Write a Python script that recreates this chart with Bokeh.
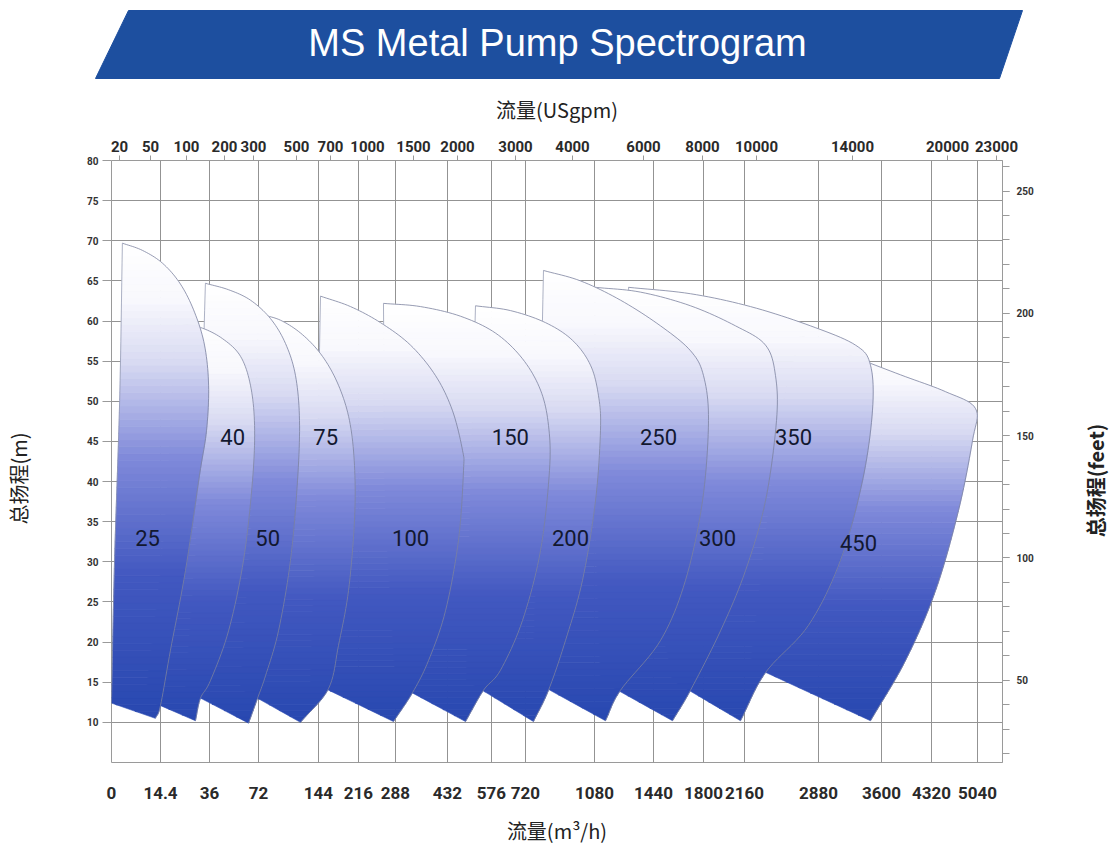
import numpy as np
from bokeh.plotting import figure
from bokeh.models import Range1d, LinearAxis, FixedTicker
from bokeh.layouts import column, row
from bokeh.core.properties import value
from bokeh.embed import file_html
from bokeh.resources import INLINE

# ---------------- data ----------------
TITLE = "MS Metal Pump Spectrogram"
X_TITLE = "流量(m³/h)"
TOP_TITLE = "流量(USgpm)"
Y_TITLE = "总扬程(m)"
Y2_TITLE = "总扬程(feet)"

# bottom axis (m3/h): tick values and their grid positions along the (non-linear) axis
X_TICKS = [0, 14.4, 36, 72, 144, 216, 288, 432, 576, 720, 1080, 1440, 1800, 2160, 2880, 3600, 4320, 5040]
X_TICK_LABELS = ["0", "14.4", "36", "72", "144", "216", "288", "432", "576", "720", "1080", "1440",
                 "1800", "2160", "2880", "3600", "4320", "5040"]
X_POS = [0, 49, 98, 147, 207, 247, 284, 336, 380, 414, 483, 542, 592, 633, 707, 770, 820, 866]
X_END = 891
# top axis (USgpm) tick labels and their positions along the same axis
GPM_TICKS = [20, 50, 100, 200, 300, 500, 700, 1000, 1500, 2000, 3000, 4000, 6000, 8000, 10000, 14000, 20000, 23000]
GPM_POS = [8, 39, 75, 113, 142, 185, 219, 256, 302, 346, 404, 461, 532, 591, 645, 741, 836, 885]
# head axes
Y_TICKS = list(range(10, 81, 5))
FT_TICKS = [50, 100, 150, 200, 250]
FT_MINOR = list(range(20, 261, 10))
M_TO_FT = 3.28084

# pump models
PUMPS = ["25", "40", "50", "75", "100", "150", "200", "250", "300", "350", "450"]
LABEL_FLOW = [10.6, 53, 83, 157, 330, 656, 955, 1476, 1923, 2637, 3337]
LABEL_HEAD = [33.0, 45.6, 33.0, 45.6, 33.0, 45.6, 33.0, 45.6, 33.0, 45.6, 32.3]
# left edge: bottom-left corner -> top-left corner
LEFT_FLOW = [
    [0, 0.9, 2.4, 3.2],
    [10.0, 16.6, 21.0],
    [25.4, 31.2, 34.2],
    [58.8, 67.6, 72.0],
    [134.4, 141.6, 147.6],
    [288.0, 268.5, 264.6],
    [494.2, 507.3, 523.6],
    [756.5, 787.8, 813.9],
    [1116.6, 1086.1, 1086.1],
    [1576.8, 1360.7, 1287.5],
    [2218.4, 2510.3, 2704.9],
]
LEFT_HEAD = [
    [12.4, 30.2, 50.1, 69.7],
    [12.9, 35.2, 59.8],
    [14.0, 37.6, 64.7],
    [14.2, 37.6, 60.9],
    [15.1, 37.6, 63.1],
    [14.8, 37.6, 62.2],
    [15.2, 37.6, 61.9],
    [15.2, 37.6, 66.3],
    [15.2, 37.6, 64.2],
    [15.2, 37.6, 64.2],
    [17.1, 47.6, 58.2],
]
# top curve and right edge: top-left corner -> lowest (bottom-right) point
ARC_FLOW = [
    [3.2, 9.1, 15.3, 23.2, 29.4, 33.8, 35.6, 34.7, 31.6, 25.4, 18.8, 14.4, 12.9],
    [21.0, 32.0, 45.6, 58.8, 66.1, 69.1, 67.6, 61.0, 50.0, 36.7, 32.0, 29.8],
    [34.2, 50.0, 66.1, 86.4, 104.4, 116.4, 121.2, 118.8, 110.4, 96.0, 80.4, 71.3, 64.7],
    [72.0, 98.4, 124.8, 151.2, 180.0, 199.8, 208.8, 208.8, 198.0, 180.0, 162.0, 122.4],
    [147.6, 201.6, 258.8, 329.5, 398.8, 447.7, 481.1, 484.4, 468.0, 426.5, 379.4, 335.1, 284.1],
    [264.6, 357.2, 474.5, 592.9, 707.3, 798.3, 840.0, 845.2, 798.3, 707.3, 614.1, 549.8, 491.0],
    [523.6, 656.5, 824.4, 965.2, 1059.1, 1104.4, 1116.6, 1086.1, 1017.4, 928.7, 840.0, 761.7],
    [813.9, 1007.0, 1238.7, 1490.4, 1706.4, 1800.0, 1843.9, 1792.8, 1670.4, 1490.4, 1238.7, 1147.1],
    [1086.1, 1360.7, 1706.4, 2081.0, 2364.3, 2461.6, 2471.4, 2364.3, 2169.7, 1949.3, 1706.4, 1576.8],
    [1287.5, 1706.4, 2218.4, 2802.2, 3302.9, 3474.4, 3497.2, 3382.9, 3131.5, 2782.8, 2364.3, 2124.9],
    [2704.9, 3245.8, 3873.6, 4539.1, 5008.6, 4961.7, 4742.6, 4382.6, 3945.6, 3474.4],
]
ARC_HEAD = [
    [69.7, 68.8, 67.2, 64.6, 61.1, 57.0, 52.0, 46.4, 40.8, 28.9, 19.0, 12.1, 10.5],
    [59.8, 59.2, 57.8, 55.6, 52.0, 47.0, 40.1, 30.2, 21.4, 15.2, 13.0, 10.2],
    [64.7, 63.9, 62.6, 60.3, 57.2, 53.2, 47.6, 40.1, 30.2, 21.4, 15.8, 13.0, 9.9],
    [60.9, 60.1, 58.3, 55.6, 52.0, 47.6, 42.0, 35.2, 26.4, 19.6, 14.2, 10.0],
    [63.1, 61.8, 59.8, 57.0, 53.2, 48.9, 43.9, 41.4, 32.7, 23.9, 17.7, 13.7, 10.1],
    [62.2, 61.8, 60.6, 58.5, 55.3, 51.4, 47.0, 41.4, 31.4, 22.7, 16.5, 14.0, 10.1],
    [61.9, 61.3, 59.8, 57.6, 54.5, 50.7, 46.4, 37.6, 27.7, 20.2, 14.0, 10.1],
    [66.3, 65.0, 62.6, 59.4, 56.3, 53.2, 47.6, 37.6, 27.7, 20.2, 14.0, 10.2],
    [64.2, 63.6, 61.9, 59.4, 57.0, 53.2, 47.6, 37.6, 28.9, 21.4, 14.0, 10.2],
    [64.2, 63.4, 61.8, 59.4, 57.0, 54.5, 48.9, 40.1, 30.2, 22.1, 16.2, 10.2],
    [58.2, 55.7, 53.3, 51.2, 49.1, 45.1, 36.4, 26.4, 17.7, 10.2],
]

# ---------------- helpers ----------------
def fx(flow):
    """horizontal axis scale: m3/h -> position along the axis (piecewise linear between ticks)"""
    flow = np.asarray(flow, dtype=float)
    u = np.interp(flow, X_TICKS, X_POS)
    slope = (X_POS[-1] - X_POS[-2]) / (X_TICKS[-1] - X_TICKS[-2])
    return np.where(flow > X_TICKS[-1], X_POS[-1] + (flow - X_TICKS[-1]) * slope, u)


def catmull(px, py, n=10):
    P = np.column_stack([np.asarray(px, float), np.asarray(py, float)])
    P = np.vstack([2 * P[0] - P[1], P, 2 * P[-1] - P[-2]])
    out = []
    for i in range(1, len(P) - 2):
        p0, p1, p2, p3 = P[i - 1], P[i], P[i + 1], P[i + 2]
        for t in np.linspace(0, 1, n, endpoint=False):
            t2, t3 = t * t, t * t * t
            out.append(0.5 * ((2 * p1) + (-p0 + p2) * t + (2 * p0 - 5 * p1 + 4 * p2 - p3) * t2
                              + (-p0 + 3 * p1 - 3 * p2 + p3) * t3))
    out.append(P[-2])
    out = np.array(out)
    return out[:, 0], out[:, 1]


def clip_half(poly, y0, keep_above):
    res = []
    n = len(poly)
    for i in range(n):
        a = poly[i]; b = poly[(i + 1) % n]
        ina = (a[1] >= y0) if keep_above else (a[1] <= y0)
        inb = (b[1] >= y0) if keep_above else (b[1] <= y0)
        if ina:
            res.append(a)
        if ina != inb:
            t = (y0 - a[1]) / (b[1] - a[1])
            res.append((a[0] + t * (b[0] - a[0]), y0))
    return res


STOPS = [(0.0, (40, 72, 176)), (0.3, (66, 88, 192)), (0.55, (128, 138, 218)),
         (0.75, (216, 218, 242)), (0.88, (248, 248, 253)), (1.0, (255, 255, 255))]


def grad_color(t):
    t = min(max(t, 0.0), 1.0)
    for (t0, c0), (t1, c1) in zip(STOPS[:-1], STOPS[1:]):
        if t <= t1:
            f = (t - t0) / (t1 - t0)
            return "#%02x%02x%02x" % tuple(int(round(c0[k] + f * (c1[k] - c0[k]))) for k in range(3))
    return "#ffffff"


TICK_FONT = "Roboto"
CJK_FONT = "Noto Sans CJK SC"
W = 1110
H_BANNER = 88
H_MAIN = 766
W_LEFT = 36
W_RIGHT = 30
W_MAIN = W - W_LEFT - W_RIGHT


def bare(width, x0, x1, y_top, y_bot):
    f = figure(width=width, height=(y_bot - y_top), x_range=Range1d(x0, x1), y_range=Range1d(y_bot, y_top),
               toolbar_location=None, output_backend="svg", min_border=0,
               x_axis_type=None, y_axis_type=None, outline_line_color=None)
    f.frame_align = False
    f.grid.visible = False
    return f

# ---------------- banner ----------------
banner = bare(W, 0, W, 0, H_BANNER)
banner.patch([128, 1022, 999, 95], [10, 10, 78, 78], fill_color="#1d4f9f", line_color="#1d4f9f")
banner.text(x=[557], y=[42], text=[TITLE], text_color="white", text_font=value("Liberation Sans"),
            text_font_size="38px", text_align="center", text_baseline="middle")

# ---------------- side titles ----------------
left_t = bare(W_LEFT, 0, W_LEFT, H_BANNER, H_BANNER + H_MAIN)
left_t.text(x=[18], y=[478], text=[Y_TITLE], angle=np.pi / 2, text_font=value(CJK_FONT),
            text_font_size="20px", text_color="#222222", text_align="center", text_baseline="middle")
right_t = bare(W_RIGHT, W - W_RIGHT, W, H_BANNER, H_BANNER + H_MAIN)
right_t.text(x=[1095], y=[480], text=[Y2_TITLE], angle=np.pi / 2, text_font=value(CJK_FONT),
             text_font_size="20px", text_font_style="bold", text_color="#222222",
             text_align="center", text_baseline="middle")

# ---------------- main chart ----------------
p = figure(width=W_MAIN, height=H_MAIN, x_range=Range1d(0, X_END), y_range=Range1d(5, 80),
           toolbar_location=None, output_backend="svg",
           min_border_left=111 - W_LEFT, min_border_right=(W - W_RIGHT) - 1002,
           min_border_top=160 - H_BANNER, min_border_bottom=H_BANNER + H_MAIN - 762,
           outline_line_color="#9a9a9a", outline_line_width=1)
p.frame_align = False
p.extra_y_ranges = {"ft": Range1d(5 * M_TO_FT, 80 * M_TO_FT)}

# bottom axis
xa = p.xaxis[0]
xa.ticker = FixedTicker(ticks=X_POS)
xa.major_label_overrides = {pos: lab for pos, lab in zip(X_POS, X_TICK_LABELS)}
xa.major_tick_out = 0
xa.major_tick_in = 0
xa.minor_tick_out = 0
xa.axis_line_color = None
xa.major_label_standoff = 24
xa.major_label_text_font = TICK_FONT
xa.major_label_text_font_size = "17px"
xa.major_label_text_font_style = "bold"
xa.major_label_text_color = "#2a2a2a"
xa.axis_label = X_TITLE
xa.axis_label_text_font = CJK_FONT
xa.axis_label_text_font_size = "20px"
xa.axis_label_text_font_style = "normal"
xa.axis_label_text_color = "#222222"
xa.axis_label_standoff = 14

# left axis
ya = p.yaxis[0]
ya.ticker = FixedTicker(ticks=Y_TICKS)
ya.major_tick_out = 9
ya.major_tick_in = 0
ya.minor_tick_out = 0
ya.axis_line_color = None
ya.major_tick_line_color = "#9a9a9a"
ya.major_label_standoff = 4
ya.major_label_text_font = TICK_FONT
ya.major_label_text_font_size = "10px"
ya.major_label_text_font_style = "bold"
ya.major_label_text_color = "#333333"

# top axis (USgpm)
top = LinearAxis(ticker=FixedTicker(ticks=GPM_POS),
                 major_label_overrides={pos: str(g) for pos, g in zip(GPM_POS, GPM_TICKS)})
top.major_tick_out = 5
top.major_tick_in = 0
top.minor_tick_out = 0
top.axis_line_color = None
top.major_tick_line_color = "#9a9a9a"
top.major_label_standoff = 4
top.major_label_text_font = TICK_FONT
top.major_label_text_font_size = "15px"
top.major_label_text_font_style = "bold"
top.major_label_text_color = "#2a2a2a"
top.axis_label = TOP_TITLE
top.axis_label_text_font = CJK_FONT
top.axis_label_text_font_size = "20px"
top.axis_label_text_font_style = "normal"
top.axis_label_text_color = "#222222"
top.axis_label_standoff = 14
p.add_layout(top, "above")

# right axis (feet)
right = LinearAxis(y_range_name="ft", ticker=FixedTicker(ticks=FT_TICKS, minor_ticks=FT_MINOR))
right.major_tick_out = 7
right.major_tick_in = 0
right.minor_tick_out = 7
right.minor_tick_in = 0
right.axis_line_color = "#9a9a9a"
right.major_tick_line_color = "#9a9a9a"
right.minor_tick_line_color = "#9a9a9a"
right.major_label_standoff = 7
right.major_label_text_font = TICK_FONT
right.major_label_text_font_size = "10px"
right.major_label_text_font_style = "bold"
right.major_label_text_color = "#333333"
p.add_layout(right, "right")

p.xgrid.grid_line_color = "#939393"
p.ygrid.grid_line_color = "#939393"
p.xgrid.grid_line_width = 1
p.ygrid.grid_line_width = 1

# pump regions (drawn right to left so that each smaller pump lies on top), vertical gradient fill
for i in reversed(range(len(PUMPS))):
    lu, lh = catmull(fx(LEFT_FLOW[i]), LEFT_HEAD[i], n=8)
    au, ah = catmull(fx(ARC_FLOW[i]), ARC_HEAD[i], n=10)
    us = np.concatenate([lu[:-1], au])
    hs = np.concatenate([lh[:-1], ah])
    poly = list(zip(us, hs))
    hmin, hmax = hs.min(), hs.max()
    nstrip = 70
    edges = np.linspace(hmin, hmax, nstrip + 1)
    sxs, sys_, cols = [], [], []
    for k in range(nstrip):
        q = clip_half(poly, edges[k], True)
        if len(q) < 3:
            continue
        q = clip_half(q, edges[k + 1] + 0.03, False)
        if len(q) < 3:
            continue
        sxs.append([a for a, b in q]); sys_.append([b for a, b in q])
        cols.append(grad_color((0.5 * (edges[k] + edges[k + 1]) - hmin) / (hmax - hmin)))
    p.patches(xs=sxs, ys=sys_, fill_color=cols, line_color=cols, line_width=0.6)
    p.line(list(au), list(ah), line_color="#7c83a0", line_width=0.8)
    p.line(list(lu), list(lh), line_color="#8a90aa", line_width=0.7)

# model labels
p.text(x=[float(v) for v in fx(LABEL_FLOW)], y=LABEL_HEAD, text=PUMPS, text_font=value(TICK_FONT),
       text_font_size="22px", text_color="#121830", text_align="center", text_baseline="middle")

layout = column(banner, row(left_t, p, right_t, spacing=0), spacing=0)
open("out.html", "w").write(file_html(layout, INLINE))
